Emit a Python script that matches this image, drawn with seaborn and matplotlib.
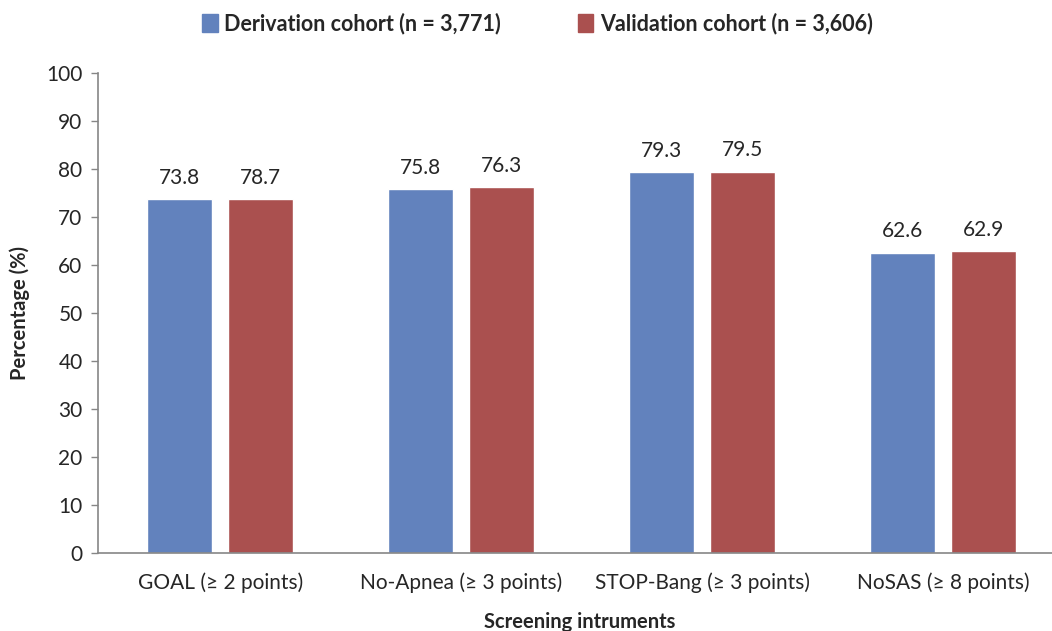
import pandas as pd
import matplotlib
matplotlib.use("Agg")
import matplotlib.pyplot as plt
import seaborn as sns
from matplotlib.patches import Patch

# Data
instruments = ["GOAL (\u2265 2 points)", "No-Apnea (\u2265 3 points)",
               "STOP-Bang (\u2265 3 points)", "NoSAS (\u2265 8 points)"]
cohorts = ["Derivation cohort (n = 3,771)", "Validation cohort (n = 3,606)"]
derivation = [73.8, 75.8, 79.3, 62.6]
validation = [73.7, 76.3, 79.5, 62.9]
# printed labels (as shown in the source figure)
derivation_labels = ["73.8", "75.8", "79.3", "62.6"]
validation_labels = ["78.7", "76.3", "79.5", "62.9"]

colors = ["#6282BD", "#AA504F"]

df = pd.DataFrame({
    "Instrument": instruments * 2,
    "Cohort": [cohorts[0]] * 4 + [cohorts[1]] * 4,
    "Value": derivation + validation,
})

sns.set_theme(style="white")
plt.rcParams["font.family"] = ["Lato", "DejaVu Sans"]

fig = plt.figure(figsize=(10.52, 6.31), dpi=100)
ax = fig.add_axes([0.093, 0.124, 0.916, 0.76])

sns.barplot(data=df, x="Instrument", y="Value", hue="Cohort", palette=colors,
            width=0.672, gap=0.2, ax=ax, legend=False, saturation=1)

for cont, labs in zip(ax.containers, [derivation_labels, validation_labels]):
    ax.bar_label(cont, labels=labs, padding=8, fontsize=15)

ax.set_ylim(0, 100)
ax.set_xlim(-0.508, 3.492)
ax.set_yticks(range(0, 101, 10))
ax.tick_params(axis="y", labelsize=15, length=5, width=1, color="#868686", direction="out", left=True, pad=6)
ax.tick_params(axis="x", labelsize=15, length=0, pad=14)
for s in ["top", "right"]:
    ax.spines[s].set_visible(False)
for s in ["left", "bottom"]:
    ax.spines[s].set_color("#868686")
    ax.spines[s].set_linewidth(1.2)

ax.set_ylabel("Percentage (%)", fontsize=14.5, fontweight="bold", labelpad=12)
ax.set_xlabel("Screening intruments", fontsize=14.5, fontweight="bold", labelpad=14)

handles = [Patch(color=c, label=l) for c, l in zip(colors, cohorts)]
fig.legend(handles=handles, loc="center", bbox_to_anchor=(0.511, 0.962), ncol=2,
           frameon=False, prop={"weight": "bold", "size": 15.5},
           handlelength=0.7, handleheight=0.9, handletextpad=0.3, columnspacing=3.6)

fig.savefig("out.png", dpi=100)
